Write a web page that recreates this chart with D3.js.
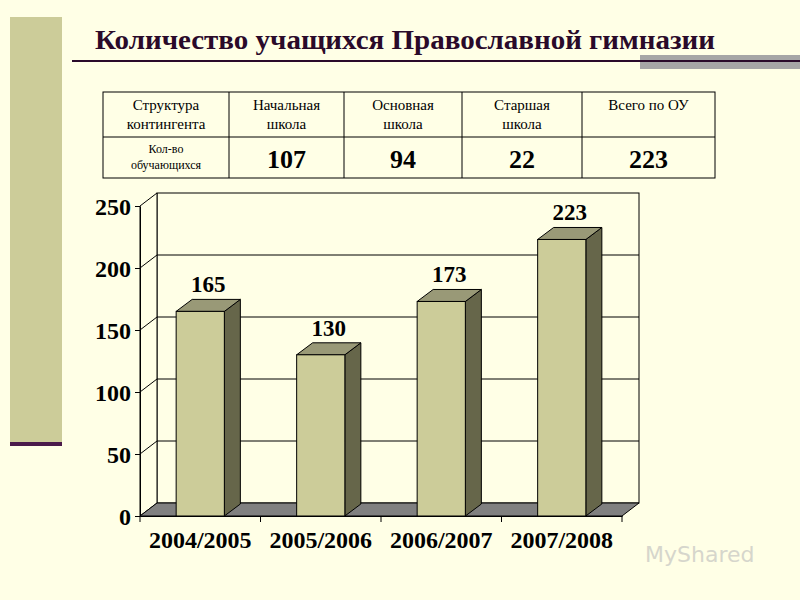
<!DOCTYPE html><html><head><meta charset="utf-8"><script src="https://cdn.jsdelivr.net/npm/d3@7"></script>
<style>body{margin:0;background:#ffffe6}</style></head><body><svg id="c" width="800" height="600"></svg><script>
const categories=["2004/2005","2005/2006","2006/2007","2007/2008"];
const values=[165,130,173,223];
const yTicks=[0,50,100,150,200,250];
const tableHead=["Структура\nконтингента","Начальная\nшкола","Основная\nшкола","Старшая\nшкола","Всего по ОУ"];
const tableRow=["Кол-во\nобучающихся","107","94","22","223"];
const svg=d3.select("#c");const F="Liberation Serif, Times New Roman, serif";
svg.append("rect").attr("width",800).attr("height",600).attr("fill","#ffffe6");
svg.append("rect").attr("x",10).attr("y",17).attr("width",52).attr("height",426).attr("fill","#cccc99");
svg.append("rect").attr("x",10).attr("y",442).attr("width",52).attr("height",4).attr("fill","#4a1a4a");
svg.append("rect").attr("x",640).attr("y",55).attr("width",160).attr("height",14).attr("fill","#a6a6a6");
svg.append("rect").attr("x",72).attr("y",60).attr("width",728).attr("height",2).attr("fill","#2a0a2a");
svg.append("text").attr("x",95).attr("y",49).attr("font-family",F).attr("font-weight","bold").attr("font-size",27).attr("fill","#2a0a2a").attr("textLength",620).attr("lengthAdjust","spacingAndGlyphs").text("Количество учащихся Православной гимназии");
const cols=[103,229,344,462,582,715];
const tg=svg.append("g");
tg.append("rect").attr("x",103).attr("y",92).attr("width",612).attr("height",86).attr("fill","none").attr("stroke","#000");
tg.append("line").attr("x1",103).attr("x2",715).attr("y1",137).attr("y2",137).attr("stroke","#000");
cols.slice(1,5).forEach(x=>tg.append("line").attr("x1",x).attr("x2",x).attr("y1",92).attr("y2",178).attr("stroke","#000"));
tableHead.forEach((t,i)=>{const cx=(cols[i]+cols[i+1])/2;t.split("\n").forEach((l,j)=>tg.append("text").attr("x",cx).attr("y",110+j*19).attr("text-anchor","middle").attr("font-family",F).attr("font-size",15).text(l));});
tableRow.forEach((t,i)=>{const cx=(cols[i]+cols[i+1])/2;
 if(i==0)t.split("\n").forEach((l,j)=>tg.append("text").attr("x",cx).attr("y",153+j*16).attr("text-anchor","middle").attr("font-family",F).attr("font-size",12).text(l));
 else tg.append("text").attr("x",cx).attr("y",168).attr("text-anchor","middle").attr("font-family",F).attr("font-weight","bold").attr("font-size",26).text(t);});
const dx=17,dy=-13;
const x=d3.scaleBand().domain(categories).range([140,622]).paddingInner(0.6).paddingOuter(0.3);
const y=d3.scaleLinear().domain([0,250]).range([516,206]);
const g=svg.append("g");
g.append("rect").attr("x",140+dx).attr("y",y(250)+dy).attr("width",482).attr("height",y(0)-y(250)).attr("fill","#ffffe6").attr("stroke","#000");
yTicks.slice(1,5).forEach(v=>g.append("line").attr("x1",140+dx).attr("x2",622+dx).attr("y1",y(v)+dy).attr("y2",y(v)+dy).attr("stroke","#000"));
g.append("path").attr("d",`M140,${y(0)}L140,${y(250)}L${140+dx},${y(250)+dy}L${140+dx},${y(0)+dy}Z`).attr("fill","#ffffe6").attr("stroke","#000");
yTicks.slice(1,5).forEach(v=>g.append("line").attr("x1",140).attr("x2",140+dx).attr("y1",y(v)).attr("y2",y(v)+dy).attr("stroke","#000"));
g.append("path").attr("d",`M140,${y(0)}L${140+dx},${y(0)+dy}L${622+dx},${y(0)+dy}L622,${y(0)}Z`).attr("fill","#808080").attr("stroke","#000");
const bw=x.bandwidth(),bd=16,bdy=-12;
categories.forEach((c,i)=>{const x0=x(c),yt=y(values[i]),yb=y(0);
 g.append("path").attr("d",`M${x0+bw},${yb}L${x0+bw},${yt}L${x0+bw+bd},${yt+bdy}L${x0+bw+bd},${yb+bdy}Z`).attr("fill","#66664a").attr("stroke","#000");
 g.append("path").attr("d",`M${x0},${yt}L${x0+bd},${yt+bdy}L${x0+bw+bd},${yt+bdy}L${x0+bw},${yt}Z`).attr("fill","#999977").attr("stroke","#000");
 g.append("rect").attr("x",x0).attr("y",yt).attr("width",bw).attr("height",yb-yt).attr("fill","#cccc99").attr("stroke","#000");
 g.append("text").attr("x",x0+bw/2+8).attr("y",yt-19).attr("text-anchor","middle").attr("font-family",F).attr("font-weight","bold").attr("font-size",23).text(values[i]);
});
const ya=g.append("g").attr("transform","translate(140,0)").call(d3.axisLeft(y).tickValues(yTicks).tickSize(5).tickSizeOuter(0));
ya.selectAll("text").attr("font-family",F).attr("font-weight","bold").attr("font-size",24).attr("fill","#000").attr("dx",-1).attr("dy","0.35em");
ya.select(".domain").attr("stroke","#000");
const xa=g.append("g").attr("transform","translate(0,516)").call(d3.axisBottom(x).tickSize(0).tickSizeOuter(0));
xa.select(".domain").attr("stroke","#000");
xa.selectAll("text").attr("font-family",F).attr("font-weight","bold").attr("font-size",24).attr("fill","#000").attr("dy","1.2em");
[140,260.5,381,501.5,622].forEach(v=>g.append("line").attr("x1",v).attr("x2",v).attr("y1",516).attr("y2",522).attr("stroke","#000"));
svg.append("text").attr("x",645).attr("y",562).attr("font-family","DejaVu Sans").attr("font-size",22).attr("fill","#bbb").attr("opacity",0.6).text("MyShared");
</script></body></html>
